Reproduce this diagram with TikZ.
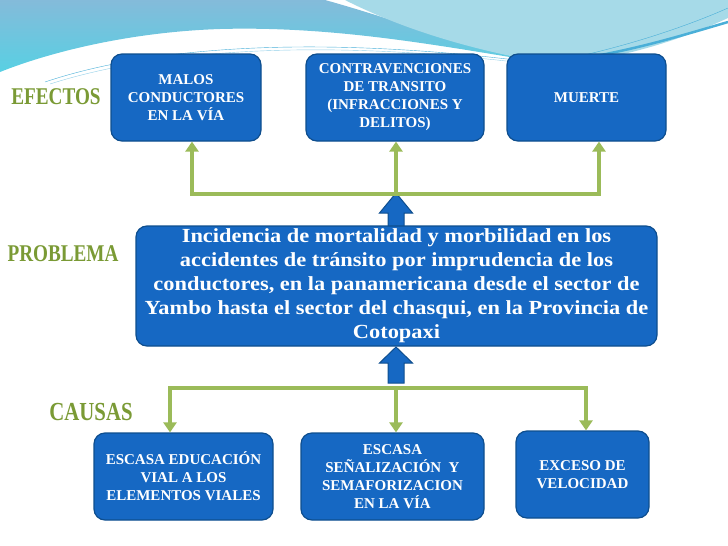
\documentclass[tikz,border=0pt]{standalone}
\usepackage{fontspec}
\setmainfont{Liberation Serif}
\newfontfamily\lblfont[FakeStretch=0.8]{Liberation Serif}
\newfontfamily\probfont[FakeStretch=1.12]{Liberation Serif}
\usetikzlibrary{arrows.meta, calc}
\definecolor{boxblue}{HTML}{1668C3}
\definecolor{boxedge}{HTML}{0E4E8E}
\definecolor{busgreen}{HTML}{9BBB59}
\definecolor{lblgreen}{HTML}{7A9A35}
\definecolor{wavetop}{HTML}{84BBDA}
\definecolor{wavelow}{HTML}{58D0E3}
\definecolor{wavelight}{HTML}{A6DAE8}
\definecolor{waveline}{HTML}{4AAFD8}
\tikzset{
    cajita/.style={draw=boxedge, line width=1.2pt, fill=boxblue, rounded corners=11pt, text=white, align=center,
        font=\bfseries\fontsize{15}{18}\selectfont, inner sep=0pt, minimum height=87pt},
    titulo/.style={text=lblgreen, font=\lblfont\bfseries\fontsize{24}{24}\selectfont},
    bus/.style={busgreen, line width=3.5pt},
    flecha/.style={bus, -{Triangle[width=13pt,length=10pt]}},
    bloque/.style={fill=boxblue, draw=boxedge, line width=1pt, line join=miter}
}

\begin{document}
\begin{tikzpicture}[x=1pt, y=-1pt]
    \useasboundingbox (0,0) rectangle (728,546);
    % fondo
    \shade[top color=wavetop, bottom color=wavelow] (0,0) -- (325,0) .. controls (390,18) and (460,44) .. (528,60)
        .. controls (430,44) and (330,26) .. (220,29) .. controls (130,32) and (50,52) .. (0,72) -- cycle;
    \fill[wavelight] (345,0) -- (728,0) -- (728,18) .. controls (670,45) and (600,64) .. (548,63)
        .. controls (470,50) and (400,28) .. (345,0) -- cycle;
    \draw[waveline, line width=2.5pt] (548,63) .. controls (620,55) and (680,36) .. (728,22);
    \draw[waveline, thin] (45,82) .. controls (140,50) and (300,32) .. (540,63);
    \draw[waveline!60, thin] (50,84) .. controls (150,52) and (310,36) .. (540,65);
    \draw[waveline, thin] (540,64) .. controls (620,50) and (690,25) .. (728,8);

    \node[titulo] (efectos) at (56,97) {EFECTOS};
    \node[titulo] (problema) at (63,254) {PROBLEMA};
    \node[titulo, font=\lblfont\bfseries\fontsize{26}{26}\selectfont] (causas) at (91,412) {CAUSAS};

    \coordinate (bt) at (396,194);
    \coordinate (bb) at (396,388);

    % flechas azules
    \draw[bloque] (388,228) -- (388,213) -- (379.5,213) -- ($(bt)+(0,-1)$) -- (412.5,213) -- (404,213) -- (404,228) -- cycle;
    \draw[bloque] (388,383) -- (388,363) -- (379.5,363) -- (396,347) -- (412.5,363) -- (404,363) -- (404,383) -- cycle;

    \node[cajita, minimum width=150pt] (ef1) at (186,97.5) {MALOS\\CONDUCTORES\\EN LA VÍA};
    \node[cajita, minimum width=178pt] (ef2) at (395,97.5) {CONTRAVENCIONES\\DE TRANSITO\\(INFRACCIONES Y\\DELITOS)};
    \node[cajita, minimum width=159pt] (ef3) at (586.5,97.5) {MUERTE};

    \node[cajita, minimum width=521pt, minimum height=120pt, font=\probfont\bfseries\fontsize{20}{24}\selectfont] (prob) at (396.5,286)
        {Incidencia de mortalidad y morbilidad en los\\accidentes de tránsito por imprudencia de los\\conductores, en la panamericana desde el sector de\\Yambo hasta el sector del chasqui, en la Provincia de\\Cotopaxi};

    \node[cajita, minimum width=179pt] (ca1) at (183.5,476.5) {ESCASA EDUCACIÓN\\VIAL A LOS\\ELEMENTOS VIALES};
    \node[cajita, minimum width=183pt] (ca2) at (392.5,476.5) {ESCASA\\SEÑALIZACIÓN\ \ Y\\SEMAFORIZACION\\EN LA VÍA};
    \node[cajita, minimum width=133pt] (ca3) at (582.5,474.5) {EXCESO DE\\VELOCIDAD};

    % efectos
    \coordinate (t1) at (192,194);
    \coordinate (t3) at (599,194);
    \draw[bus, line cap=rect] (t1) -- (t3);
    \draw[flecha] (t1) -- (t1 |- ef1.south);
    \draw[flecha] (bt) -- (bt |- ef2.south);
    \draw[flecha] (t3) -- (t3 |- ef3.south);

    % causas
    \coordinate (b1) at (170,388);
    \coordinate (b3) at (586,388);
    \draw[bus, line cap=rect] (b1) -- (b3);
    \draw[flecha] (b1) -- (b1 |- ca1.north);
    \draw[flecha] (bb) -- (bb |- ca2.north);
    \draw[flecha] (b3) -- (b3 |- ca3.north);
\end{tikzpicture}
\end{document}
